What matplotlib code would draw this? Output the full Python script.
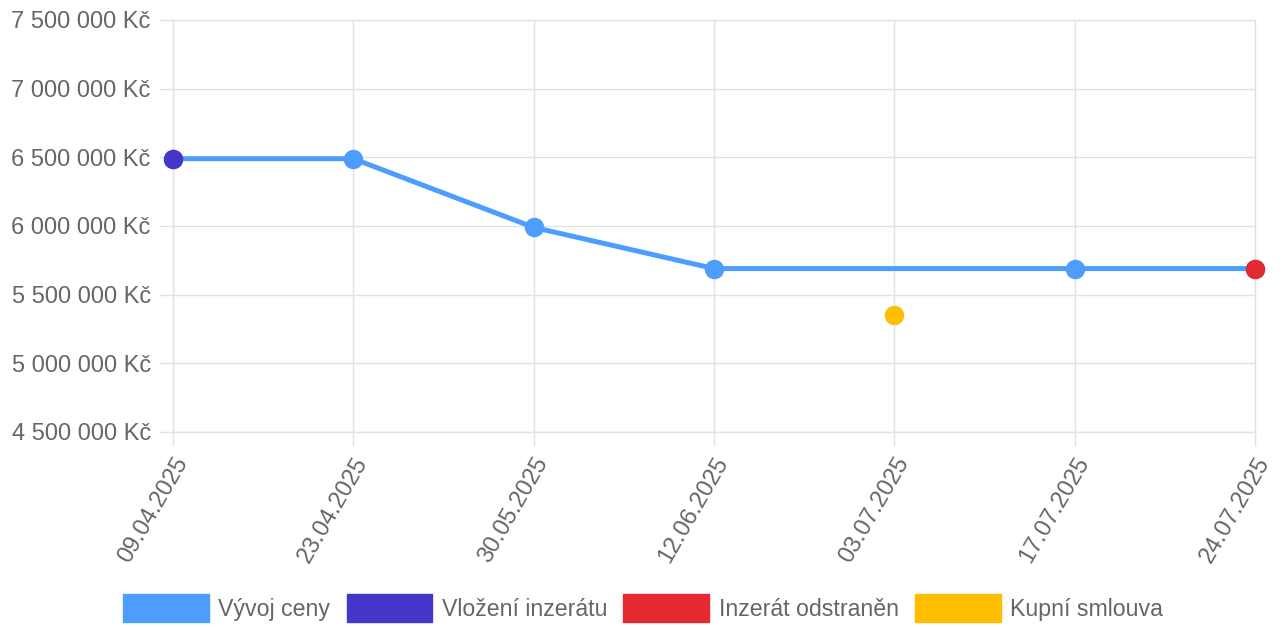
import numpy as np
import matplotlib
matplotlib.use("Agg")
import matplotlib.pyplot as plt
from matplotlib.patches import Patch

plt.rcParams['font.family'] = ['Liberation Sans', 'DejaVu Sans']

# data
dates = ["09.04.2025", "23.04.2025", "30.05.2025", "12.06.2025",
         "03.07.2025", "17.07.2025", "24.07.2025"]
price = [6490000, 6490000, 5990000, 5690000, None, 5690000, 5690000]
listed_idx, listed_val = 0, 6490000
removed_idx, removed_val = 6, 5690000
contract_idx, contract_val = 4, 5350000

labels = ["Vývoj ceny", "Vložení inzerátu", "Inzerát odstraněn", "Kupní smlouva"]
c_blue = "#4d9dff"
c_purple = "#4436c9"
c_red = "#e52930"
c_yellow = "#ffbe00"

fig = plt.figure(figsize=(12.82, 6.27), dpi=100)
ax = fig.add_axes([173 / 1282, 1 - 432 / 627, (1255 - 173) / 1282, 412 / 627])

# price line skips the missing point (like spanGaps)
xs = [i for i, v in enumerate(price) if v is not None]
ys = [v for v in price if v is not None]
ax.plot(xs, ys, color=c_blue, lw=3.6, marker='o', ms=13, mec=c_blue,
        solid_capstyle='round', zorder=3, clip_on=False)
ax.plot([listed_idx], [listed_val], 'o', color=c_purple, ms=13, zorder=4, clip_on=False)
ax.plot([removed_idx], [removed_val], 'o', color=c_red, ms=13, zorder=4, clip_on=False)
ax.plot([contract_idx], [contract_val], 'o', color=c_yellow, ms=13, zorder=4, clip_on=False)

ax.set_xlim(0, len(dates) - 1)
ax.set_ylim(4500000, 7500000)
ax.set_yticks(np.arange(4500000, 7500001, 500000))
ax.set_yticklabels([f"{int(v):,} Kč".replace(",", " ") for v in ax.get_yticks()])
ax.set_xticks(range(len(dates)))
ax.set_xticklabels(dates, rotation=60, ha='right', va='top', rotation_mode='anchor')

grid_c = "#e2e2e2"
ax.grid(True, color=grid_c, lw=1)
ax.set_axisbelow(True)
for s in ax.spines.values():
    s.set_color(grid_c)
    s.set_linewidth(1)
    s.set_zorder(0.5)
ax.tick_params(axis='both', colors=grid_c, labelcolor="#666666", labelsize=17,
               length=10, width=1)
ax.tick_params(axis='y', pad=6)
ax.tick_params(axis='x', pad=5)

handles = [Patch(facecolor=c, edgecolor=c) for c in [c_blue, c_purple, c_red, c_yellow]]
leg = fig.legend(handles, labels, loc='center', bbox_to_anchor=(643 / 1282, 1 - 608 / 627),
                 ncol=4, frameon=False, fontsize=16.7, handlelength=3.7, handleheight=1.45,
                 handletextpad=0.4, columnspacing=0.7, labelcolor="#666666")

fig.savefig("out.png", dpi=100)
